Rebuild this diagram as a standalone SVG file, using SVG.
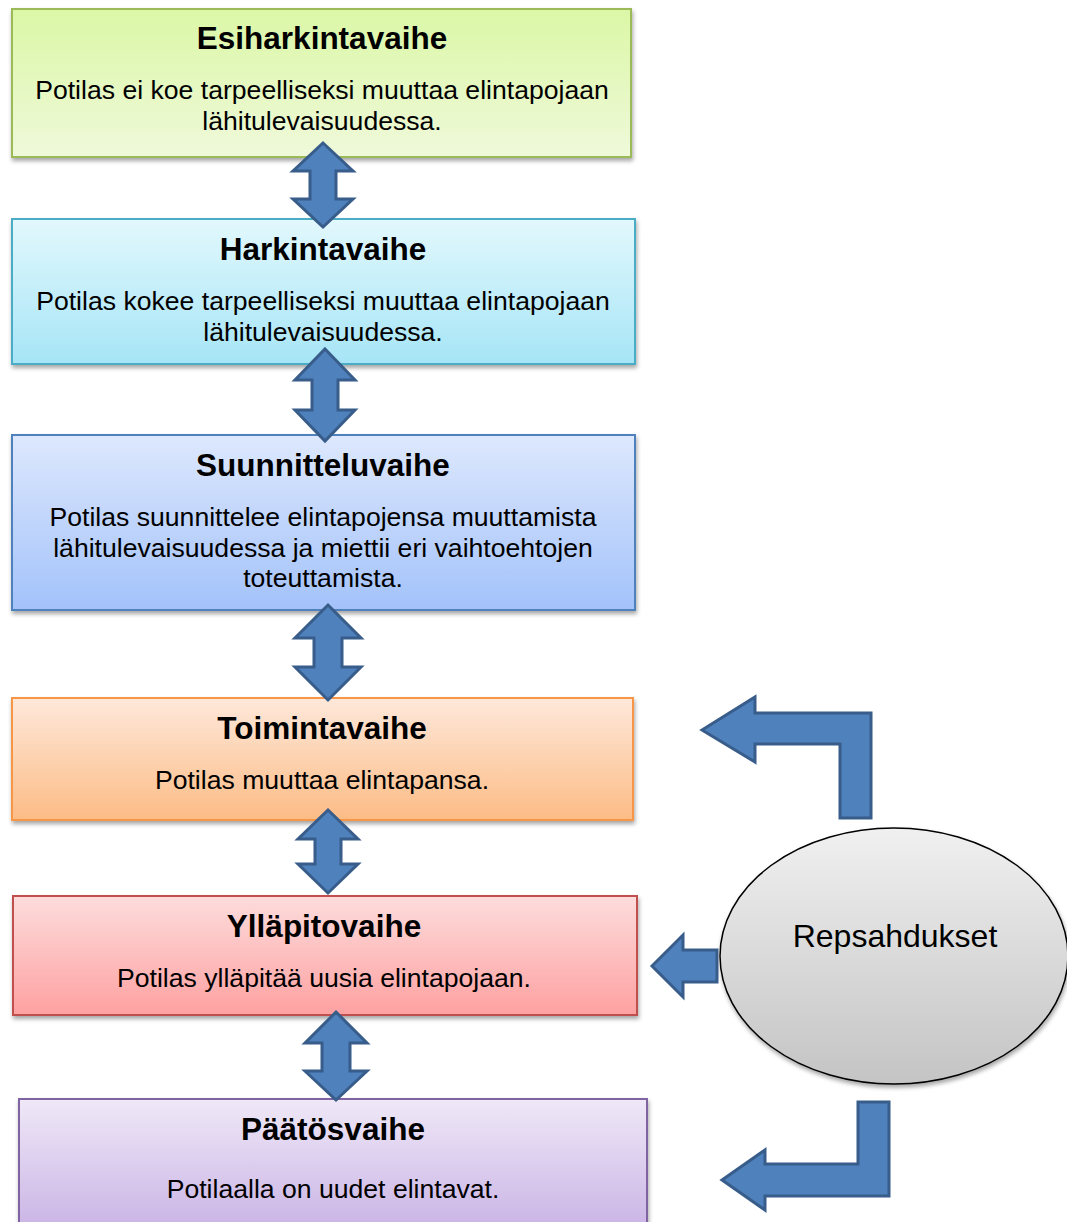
<svg xmlns="http://www.w3.org/2000/svg" width="1067" height="1222" viewBox="0 0 1067 1222">
<defs>
<linearGradient id="gGreen" x1="0" y1="0" x2="0" y2="1"><stop offset="0" stop-color="#dbf7a6"/><stop offset="1" stop-color="#eff9da"/></linearGradient>
<linearGradient id="gCyan" x1="0" y1="0" x2="0" y2="1"><stop offset="0" stop-color="#e2f8fd"/><stop offset="1" stop-color="#a6e5f6"/></linearGradient>
<linearGradient id="gBlue" x1="0" y1="0" x2="0" y2="1"><stop offset="0" stop-color="#dde8fd"/><stop offset="1" stop-color="#a3c2fa"/></linearGradient>
<linearGradient id="gOrange" x1="0" y1="0" x2="0" y2="1"><stop offset="0" stop-color="#fee8da"/><stop offset="1" stop-color="#fcbc86"/></linearGradient>
<linearGradient id="gRed" x1="0" y1="0" x2="0" y2="1"><stop offset="0" stop-color="#fddcdc"/><stop offset="1" stop-color="#fea1a1"/></linearGradient>
<linearGradient id="gPurple" x1="0" y1="0" x2="0" y2="1"><stop offset="0" stop-color="#efe8f7"/><stop offset="1" stop-color="#cab4e5"/></linearGradient>
<linearGradient id="gGray" x1="0" y1="0" x2="0" y2="1"><stop offset="0" stop-color="#f0f0f0"/><stop offset="1" stop-color="#c4c4c4"/></linearGradient>
<filter id="shadow" x="-5%" y="-10%" width="110%" height="125%"><feDropShadow dx="1" dy="3" stdDeviation="2" flood-color="#000" flood-opacity="0.35"/></filter>
</defs>
<style>
.box{stroke-width:2;filter:url(#shadow)}
.title{font-family:"Liberation Sans",Arial,sans-serif;font-weight:bold;font-size:31.5px;text-anchor:middle;fill:#000}
.body{font-family:"Liberation Sans",Arial,sans-serif;font-size:26.6px;text-anchor:middle;fill:#000}
.arrow{fill:#4f81bd;stroke:#385d8a;stroke-width:3;stroke-linejoin:miter}
</style>
<g id="esiharkintavaihe">
<rect class="box" x="12" y="9" width="619" height="148" fill="url(#gGreen)" stroke="#9bbb59"/>
<text class="title" x="322" y="49">Esiharkintavaihe</text>
<text class="body" x="322" y="99">Potilas ei koe tarpeelliseksi muuttaa elintapojaan</text>
<text class="body" x="322" y="130">lähitulevaisuudessa.</text>
</g>
<g id="harkintavaihe">
<rect class="box" x="12" y="219" width="623" height="145" fill="url(#gCyan)" stroke="#4bacc6"/>
<text class="title" x="323" y="260">Harkintavaihe</text>
<text class="body" x="323" y="310">Potilas kokee tarpeelliseksi muuttaa elintapojaan</text>
<text class="body" x="323" y="341">lähitulevaisuudessa.</text>
</g>
<g id="suunnitteluvaihe">
<rect class="box" x="12" y="435" width="623" height="175" fill="url(#gBlue)" stroke="#4f81bd"/>
<text class="title" x="323" y="476">Suunnitteluvaihe</text>
<text class="body" x="323" y="526">Potilas suunnittelee elintapojensa muuttamista</text>
<text class="body" x="323" y="557">lähitulevaisuudessa ja miettii eri vaihtoehtojen</text>
<text class="body" x="323" y="587">toteuttamista.</text>
</g>
<g id="toimintavaihe">
<rect class="box" x="12" y="698" width="621" height="122" fill="url(#gOrange)" stroke="#f79646"/>
<text class="title" x="322" y="739">Toimintavaihe</text>
<text class="body" x="322" y="789">Potilas muuttaa elintapansa.</text>
</g>
<g id="yllapitovaihe">
<rect class="box" x="13" y="896" width="624" height="119" fill="url(#gRed)" stroke="#c0504d"/>
<text class="title" x="324" y="937">Ylläpitovaihe</text>
<text class="body" x="324" y="987">Potilas ylläpitää uusia elintapojaan.</text>
</g>
<g id="paatosvaihe">
<rect class="box" x="19" y="1099" width="628" height="130" fill="url(#gPurple)" stroke="#8064a2"/>
<text class="title" x="333" y="1140">Päätösvaihe</text>
<text class="body" x="333" y="1198">Potilaalla on uudet elintavat.</text>
</g>
<g id="repsahdukset">
<ellipse cx="894" cy="956" rx="174" ry="128" fill="url(#gGray)" stroke="#000" stroke-width="1.5" filter="url(#shadow)"/>
<text x="895" y="947" font-family="Liberation Sans, Arial, sans-serif" font-size="32" text-anchor="middle" fill="#000">Repsahdukset</text>
</g>
<g id="connectors">
<path class="arrow" d="M323,143 L353,171 L336,171 L336,199 L353,199 L323,227 L293,199 L310,199 L310,171 L293,171 Z"/>
<path class="arrow" d="M325,349 L355,380 L338,380 L338,410 L355,410 L325,441 L295,410 L312,410 L312,380 L295,380 Z"/>
<path class="arrow" d="M328,605 L361,638 L342,638 L342,667 L361,667 L328,700 L295,667 L314,667 L314,638 L295,638 Z"/>
<path class="arrow" d="M328,810 L358,839 L341,839 L341,864 L358,864 L328,893 L298,864 L315,864 L315,839 L298,839 Z"/>
<path class="arrow" d="M336,1012 L367,1043 L350,1043 L350,1071 L367,1071 L336,1100 L305,1071 L322,1071 L322,1043 L305,1043 Z"/>
<path class="arrow" d="M702,730 L755,697 L755,713 L871,713 L871,818 L840,818 L840,744 L755,744 L755,762 Z"/>
<path class="arrow" d="M652,966 L683,935 L683,950 L717,950 L717,982 L683,982 L683,997 Z"/>
<path class="arrow" d="M722,1180 L765,1150 L765,1164 L858,1164 L858,1102 L889,1102 L889,1196 L765,1196 L765,1210 Z"/>
</g>
</svg>
